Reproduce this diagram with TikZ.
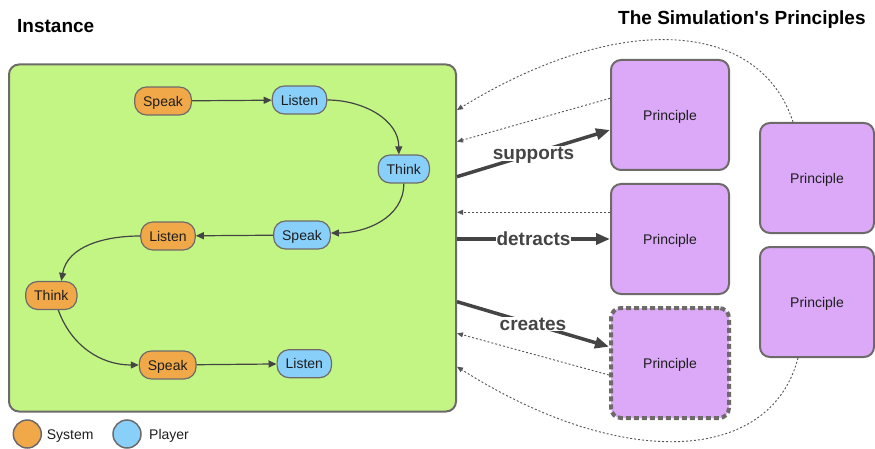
\documentclass[tikz,border=0pt]{standalone}
\usepackage{fontspec}
\setmainfont{Liberation Sans}[Ligatures=TeXOff]
\usetikzlibrary{arrows.meta}

\definecolor{instgreen}{HTML}{C3F585}
\definecolor{sysorange}{HTML}{F0A848}
\definecolor{plblue}{HTML}{88CFFA}
\definecolor{prinpurple}{HTML}{DBA9F8}
\definecolor{edgegray}{HTML}{6E6A6A}
\definecolor{arrowgray}{HTML}{444444}
\definecolor{dotgray}{HTML}{555555}
\definecolor{inktext}{HTML}{1E1E1E}

\tikzset{
  instbox/.style={draw=edgegray, line width=2pt, fill=instgreen, rounded corners=10pt},
  actbox/.style={draw=edgegray, line width=1.2pt, rounded corners=12pt,
    minimum height=28pt, inner xsep=8.5pt, inner ysep=0pt, text=inktext,
    text depth=0pt, font=\fontsize{14}{16}\selectfont},
  sysact/.style={actbox, fill=sysorange},
  plact/.style={actbox, fill=plblue},
  flow/.style={draw=arrowgray, line width=1.2pt, -{Triangle[length=8pt,width=7pt]}},
  princ/.style={draw=edgegray, line width=2pt, fill=prinpurple, rounded corners=10pt,
    minimum width=118pt, minimum height=110pt, text=inktext,
    text depth=0pt, font=\fontsize{14}{16}\selectfont},
  newprinc/.style={princ, line width=4pt, dash pattern=on 5pt off 3pt},
  relarrow/.style={draw=arrowgray, line width=3.5pt, -{Triangle[length=14pt,width=11pt]}},
  rellabel/.style={fill=white, inner sep=1pt, text=arrowgray, text depth=0pt,
    font=\fontsize{19}{21}\selectfont\bfseries},
  feedback/.style={draw=dotgray, line width=0.9pt, dash pattern=on 2pt off 2pt,
    -{Triangle[length=6pt,width=5pt]}},
  legdot/.style={circle, draw=edgegray, line width=1.5pt, minimum size=28pt, inner sep=0pt},
  title/.style={anchor=base west, inner sep=0pt, text=black, font=\fontsize{19}{21}\selectfont\bfseries},
  legtext/.style={anchor=base west, inner sep=0pt, text=inktext, font=\fontsize{14}{16}\selectfont}
}

\begin{document}
\begin{tikzpicture}[x=1pt, y=1pt]
\useasboundingbox (0,0) rectangle (875,-449);

% headings
\node[title] (insttitle) at (17,-32.2) {Instance};
\node[title] (printitle) at (618,-25) {The Simulation's Principles};

% the instance frame
\node[instbox, minimum width=447pt, minimum height=347pt] (inst) at (232.5,-238) {};

% turns of the conversation
\node[sysact] (sp1) at (163,-101)   {Speak};
\node[plact]  (li1) at (299.5,-100) {Listen};
\node[plact]  (th1) at (403.8,-169) {Think};
\node[plact]  (sp2) at (302,-235)   {Speak};
\node[sysact] (li2) at (168,-236)   {Listen};
\node[sysact] (th2) at (51.3,-295.5){Think};
\node[sysact] (sp3) at (167.7,-365) {Speak};
\node[plact]  (li3) at (304.3,-363.7){Listen};

\draw[flow] (sp1) -- (li1);
\draw[flow] (li1.east) to[out=0,in=90] ([xshift=-5pt]th1.north);
\draw[flow] (th1.south) to[out=-90,in=0] ([yshift=2pt]sp2.east);
\draw[flow] (sp2) -- (li2);
\draw[flow] (li2.west) to[out=180,in=80] ([xshift=10pt]th2.north);
\draw[flow] ([xshift=7pt]th2.south) to[out=-70,in=180] (sp3.west);
\draw[flow] (sp3) -- (li3);

% principles
\node[princ]    (p1) at (670,-115) {Principle};
\node[princ]    (p2) at (670,-239) {Principle};
\node[newprinc] (p3) at (670,-363) {Principle};
\node[princ, minimum width=114pt] (p4) at (817,-178) {Principle};
\node[princ, minimum width=114pt] (p5) at (817,-302) {Principle};

% how the instance acts on the principles
\draw[relarrow] ([yshift=61.3pt]inst.east) -- node[rellabel] {supports} ([yshift=-15pt]p1.west);
\draw[relarrow] ([yshift=-1pt]inst.east) -- node[rellabel] {detracts} (p2.west);
\draw[relarrow] ([yshift=-63.7pt]inst.east) -- node[rellabel] {creates} ([yshift=16.3pt]p3.west);

% principles feeding back into the instance
\draw[feedback] ([yshift=16.7pt]p1.west) -- ([yshift=96.3pt]inst.east);
\draw[feedback] ([yshift=26.7pt]p2.west) -- ([yshift=25.7pt]inst.east);
\draw[feedback] ([yshift=-12pt]p3.west) -- ([yshift=-95.3pt]inst.east);
\draw[feedback] ([xshift=-24pt]p4.north) .. controls (760,-20) and (620,-10) .. ([yshift=128pt]inst.east);
\draw[feedback] ([xshift=-19pt]p5.south) .. controls (770,-465) and (620,-470) .. ([yshift=-128.7pt]inst.east);

% legend
\node[legdot, fill=sysorange] (legsys) at (27.3,-434) {};
\node[legtext] (legsyst) at (46.7,-439) {System};
\node[legdot, fill=plblue] (legpl) at (127,-434) {};
\node[legtext] (legplt) at (149,-439) {Player};
\end{tikzpicture}
\end{document}
